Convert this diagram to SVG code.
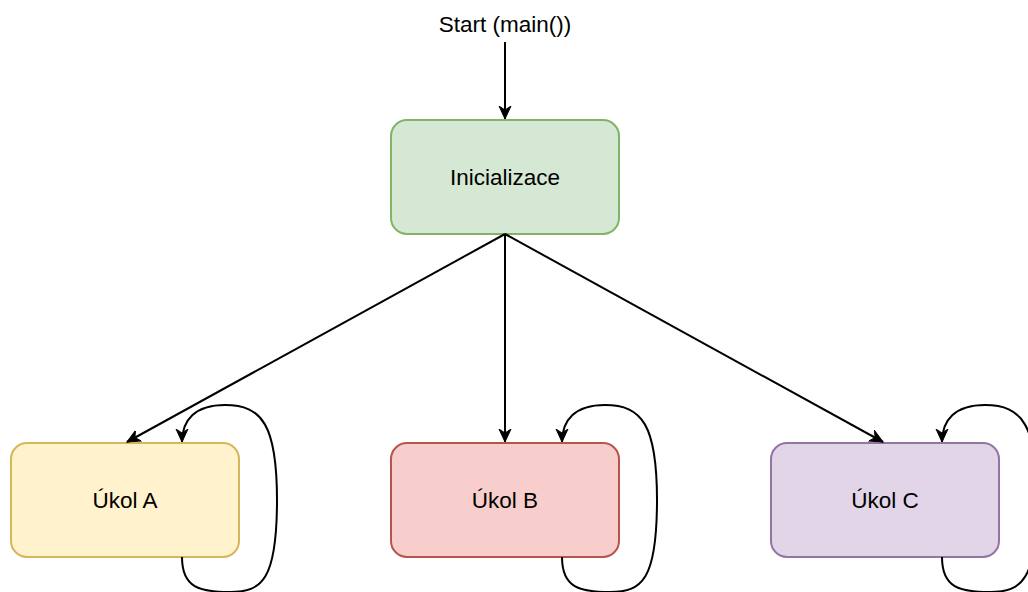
<svg xmlns="http://www.w3.org/2000/svg" width="1028" height="592" viewBox="0 0 1028 592">
<style>
.lbl{font-family:"Liberation Sans",Arial,sans-serif;font-size:22.5px;fill:#000;text-anchor:middle;dominant-baseline:central}
.edge{fill:none;stroke:#000;stroke-width:2}
</style>
<defs>
<marker id="arr" viewBox="0 0 14 14" refX="13" refY="7" markerWidth="14" markerHeight="14" markerUnits="userSpaceOnUse" orient="auto">
<path d="M0,1 L13,7 L0,13 L4,7 Z" fill="#000" stroke="#000" stroke-width="1" stroke-linejoin="miter"/>
</marker>
</defs>
<rect width="1028" height="592" fill="#fff"/>
<g id="start"><text class="lbl" x="505" y="24">Start (main())</text></g>
<g id="init"><rect x="391" y="120" width="228" height="114" rx="16" fill="#d5e8d4" stroke="#82b366" stroke-width="2"/><text class="lbl" x="505" y="177">Inicializace</text></g>
<g id="ukolA"><rect x="11" y="443" width="228" height="114" rx="16" fill="#fff2cc" stroke="#d6b656" stroke-width="2"/><text class="lbl" x="125" y="500">Úkol A</text></g>
<g id="ukolB"><rect x="391" y="443" width="228" height="114" rx="16" fill="#f8cecc" stroke="#b85450" stroke-width="2"/><text class="lbl" x="505" y="500">Úkol B</text></g>
<g id="ukolC"><rect x="771" y="443" width="228" height="114" rx="16" fill="#e1d5e7" stroke="#9673a6" stroke-width="2"/><text class="lbl" x="885" y="500">Úkol C</text></g>
<g id="connectors">
<path class="edge" d="M505,42 L505,119" marker-end="url(#arr)"/>
<path class="edge" d="M505,234 L127,442" marker-end="url(#arr)"/>
<path class="edge" d="M505,234 L505,442" marker-end="url(#arr)"/>
<path class="edge" d="M505,234 L883,442" marker-end="url(#arr)"/>
<path class="edge" d="M182,557 C182,588 200,592 230,592 C262,592 277,580 277,500 C277,425 262,405 225,405 C195,405 182,420 182,442" marker-end="url(#arr)"/>
<path class="edge" d="M562,557 C562,588 580,592 610,592 C642,592 657,580 657,500 C657,425 642,405 605,405 C575,405 562,420 562,442" marker-end="url(#arr)"/>
<path class="edge" d="M942,557 C942,588 960,592 990,592 C1022,592 1037,580 1037,500 C1037,425 1022,405 985,405 C955,405 942,420 942,442" marker-end="url(#arr)"/>
</g>
</svg>
